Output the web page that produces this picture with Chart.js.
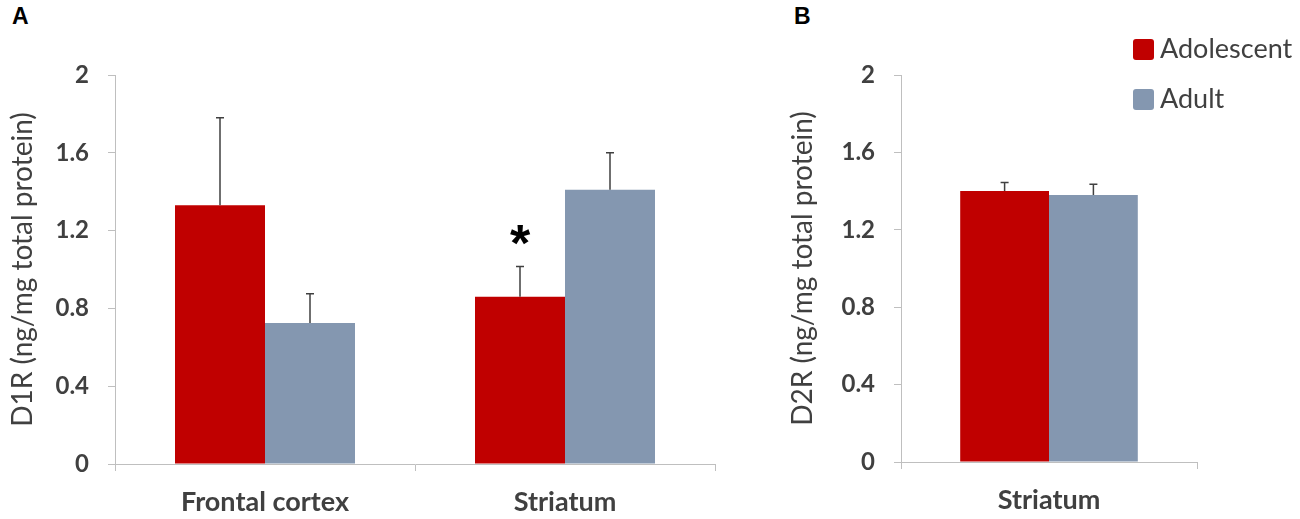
<!DOCTYPE html>
<html>
<head>
<meta charset="utf-8">
<script src="https://cdn.jsdelivr.net/npm/chart.js@4.4.1/dist/chart.umd.min.js"></script>
<style>
  body { margin: 0; background: #fff; width: 1300px; height: 519px; position: relative; overflow: hidden; }
  .panel { position: absolute; top: 0; }
  .tag { position: absolute; font-family: 'Liberation Sans', Arial, sans-serif; font-weight: bold; font-size: 23px; line-height: 1; color: #000; }
</style>
</head>
<body>
<div class="tag" style="left:12px; top:5px;">A</div>
<div class="tag" style="left:794px; top:5px;">B</div>
<div class="panel" style="left:0; width:730px; height:519px;"><canvas id="d1-canvas" width="730" height="519"></canvas></div>
<div class="panel" style="left:780px; width:520px; height:519px;"><canvas id="d2-canvas" width="520" height="519"></canvas></div>
<script>
// panel A: D1R
const d1Categories = ['Frontal cortex', 'Striatum'];
const d1Adolescent = [1.33, 0.86];
const d1AdolescentErr = [0.45, 0.155];
const d1Adult = [0.725, 1.41];
const d1AdultErr = [0.15, 0.19];
const d1Stars = ['', '*']; // significance over adolescent bars

// panel B: D2R
const d2Categories = ['Striatum'];
const d2Adolescent = [1.40];
const d2AdolescentErr = [0.045];
const d2Adult = [1.38];
const d2AdultErr = [0.055];

const yTickValues = [0, 0.4, 0.8, 1.2, 1.6, 2];
const seriesNames = ['Adolescent', 'Adult'];

const RED = '#c00000';
const BLUE = '#8497b0';
const TEXT = '#404040';
const AXIS = '#bfbfbf';
const FONT = 'Lato';

// draws the upper error bar and the significance stars
const errorBars = {
  id: 'errorBars',
  afterDatasetsDraw(chart) {
    const ctx = chart.ctx;
    const yScale = chart.scales.y;
    ctx.save();
    chart.data.datasets.forEach((ds, i) => {
      const meta = chart.getDatasetMeta(i);
      meta.data.forEach((bar, j) => {
        const err = ds.errors[j];
        const top = yScale.getPixelForValue(ds.data[j] + err);
        ctx.strokeStyle = TEXT;
        ctx.lineWidth = 1.5;
        ctx.beginPath();
        ctx.moveTo(bar.x, bar.y);
        ctx.lineTo(bar.x, top);
        ctx.moveTo(bar.x - 4, top);
        ctx.lineTo(bar.x + 4, top);
        ctx.stroke();
        if (ds.stars && ds.stars[j]) {
          ctx.fillStyle = '#000';
          ctx.font = 'bold 52px "Liberation Sans"';
          ctx.textAlign = 'center';
          ctx.textBaseline = 'alphabetic';
          const m = ctx.measureText(ds.stars[j]);
          const mid = top - 32;
          ctx.fillText(ds.stars[j], bar.x, mid + (m.actualBoundingBoxAscent - m.actualBoundingBoxDescent) / 2);
        }
      });
    });
    ctx.restore();
  }
};

// legend in the top right corner of panel B
const cornerLegend = {
  id: 'cornerLegend',
  afterDraw(chart, args, opts) {
    if (!opts.show) return;
    const ctx = chart.ctx;
    ctx.save();
    chart.data.datasets.forEach((ds, i) => {
      const y = 49 + i * 50;
      ctx.fillStyle = ds.backgroundColor;
      ctx.beginPath();
      ctx.roundRect(353, y - 10, 21, 21, 3);
      ctx.fill();
      ctx.fillStyle = TEXT;
      ctx.font = '27px ' + FONT;
      ctx.textAlign = 'left';
      ctx.textBaseline = 'middle';
      ctx.fillText(ds.label, 380, y);
    });
    ctx.restore();
  }
};

function makeChart(canvasId, categories, adolescent, adolescentErr, adult, adultErr, stars, yTitle, yWidth, xHeight, padRight, showLegend) {
  const ctx = document.getElementById(canvasId).getContext('2d');
  return new Chart(ctx, {
    type: 'bar',
    data: {
      labels: categories,
      datasets: [
        { label: seriesNames[0], data: adolescent, errors: adolescentErr, stars: stars, backgroundColor: RED, borderWidth: 0 },
        { label: seriesNames[1], data: adult, errors: adultErr, backgroundColor: BLUE, borderWidth: 0 }
      ]
    },
    options: {
      responsive: false,
      animation: false,
      categoryPercentage: 0.6,
      barPercentage: 1.0,
      layout: { padding: { top: 75, right: padRight, left: 0, bottom: 0 } },
      plugins: {
        legend: { display: false },
        tooltip: { enabled: false },
        cornerLegend: { show: showLegend }
      },
      scales: {
        x: {
          offset: true,
          grid: { display: true, offset: true, drawOnChartArea: false, drawTicks: true, tickLength: 7, color: AXIS },
          border: { display: true, color: AXIS, width: 1 },
          ticks: { color: TEXT, font: { family: FONT, size: 27, weight: 'bold' }, padding: 15 },
          afterFit: (scale) => { scale.height = xHeight; }
        },
        y: {
          min: 0,
          max: 2,
          afterBuildTicks: (scale) => { scale.ticks = yTickValues.map(v => ({ value: v })); },
          grid: { display: true, drawOnChartArea: false, drawTicks: true, tickLength: 7, color: AXIS },
          border: { display: true, color: AXIS, width: 1 },
          ticks: { color: TEXT, font: { family: FONT, size: 24, weight: 'bold' }, padding: 19, callback: (v) => String(v) },
          title: { display: true, text: yTitle, color: TEXT, font: { family: FONT, size: 28 }, padding: { top: 6, bottom: 0 } },
          afterFit: (scale) => { scale.width = yWidth; }
        }
      }
    },
    plugins: [errorBars, cornerLegend]
  });
}

makeChart('d1-canvas', d1Categories, d1Adolescent, d1AdolescentErr, d1Adult, d1AdultErr, d1Stars,
  'D1R (ng/mg total protein)', 115, 55, 15, false);
makeChart('d2-canvas', d2Categories, d2Adolescent, d2AdolescentErr, d2Adult, d2AdultErr, [''],
  'D2R (ng/mg total protein)', 121, 57, 103, true);
</script>
</body>
</html>
